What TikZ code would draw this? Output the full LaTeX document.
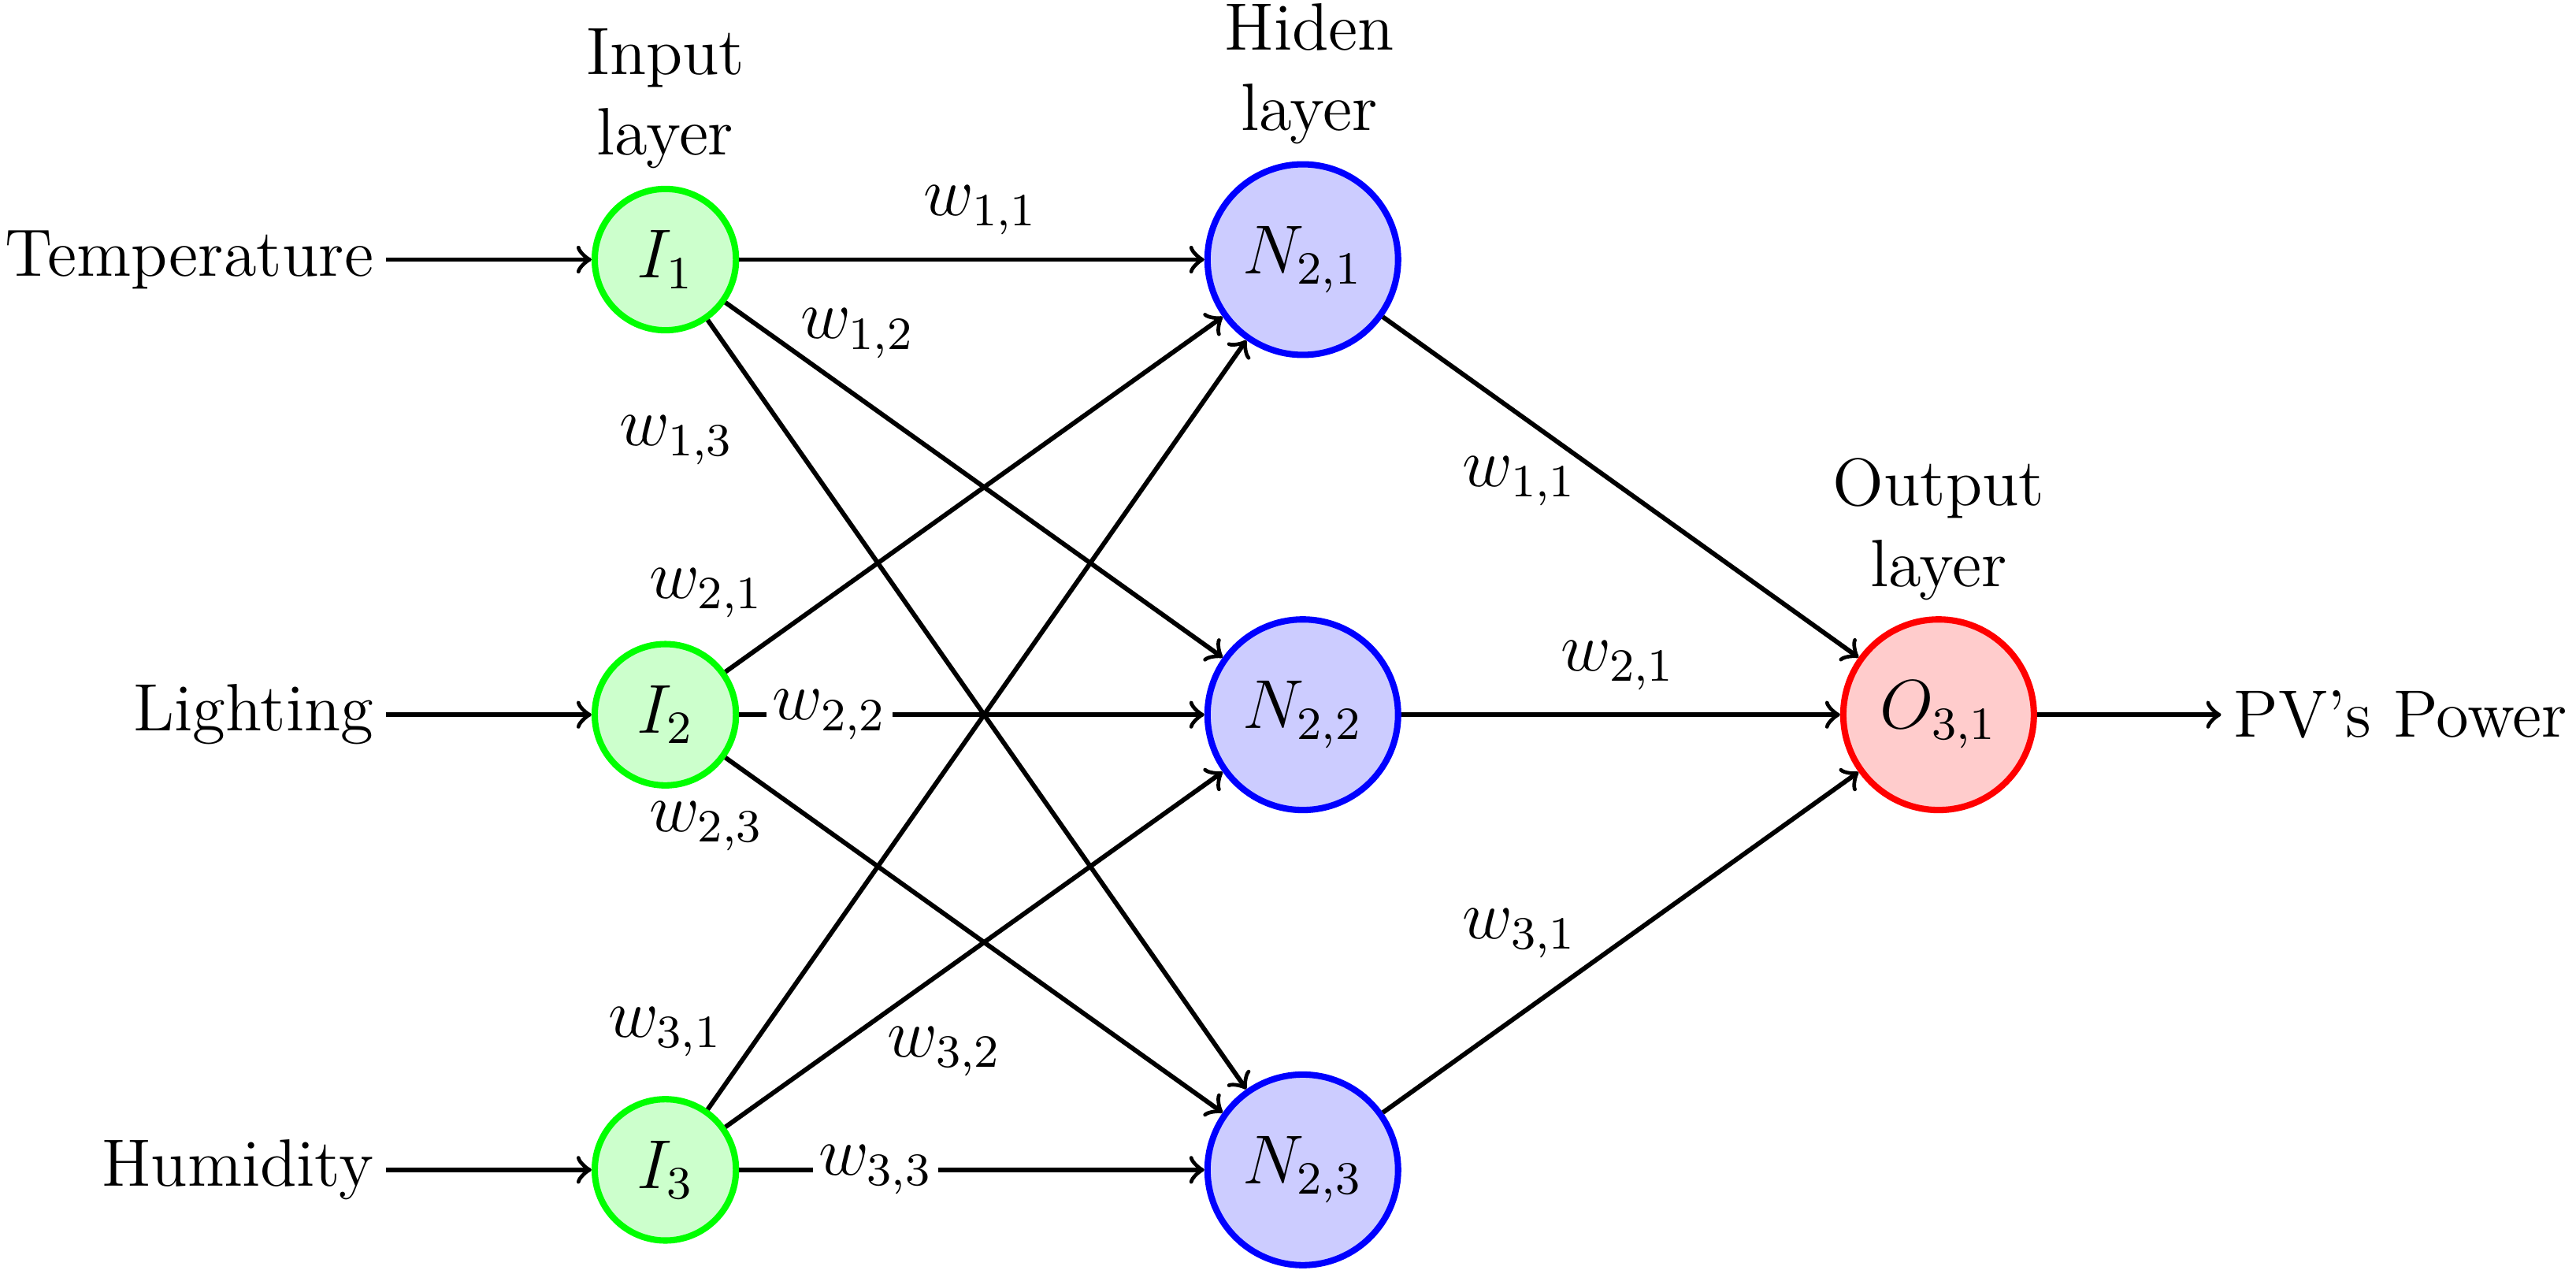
\documentclass[tikz,border=0pt]{standalone}
\usetikzlibrary{positioning}
\begin{document}
\begin{tikzpicture}[x=1cm,y=1cm,font=\fontsize{11.6}{14}\selectfont,
      every node/.style={align=center},
      input/.style={draw=green, fill=green!20, circle, line width=1.1pt, minimum size=0.86cm, inner sep=0pt},
      hidden/.style={draw=blue, fill=blue!20, circle, line width=1.1pt, minimum size=1.16cm, inner sep=0pt},
      output/.style={draw=red, fill=red!20, circle, line width=1.1pt, minimum size=1.16cm, inner sep=0pt},
      link/.style={->, thick},
      side/.style={inner sep=0.07cm},
      wlab/.style={fill=white, inner sep=1pt}]
    \useasboundingbox (0,0) rectangle (15.68,7.82);
    % layers
    \node[input] (I1) at (4.05,6.24) {$I_1$};
    \node[input] (I2) at (4.05,3.47) {$I_2$};
    \node[input] (I3) at (4.05,0.70) {$I_3$};
    \node[hidden] (N1) at (7.93,6.24) {$N_{2,1}$};
    \node[hidden] (N2) at (7.93,3.47) {$N_{2,2}$};
    \node[hidden] (N3) at (7.93,0.70) {$N_{2,3}$};
    \node[output] (O1) at (11.80,3.47) {$O_{3,1}$};
    % inputs and output
    \node[side, anchor=east] (t) at (2.35,6.24) {Temperature};
    \node[side, anchor=east] (l) at (2.35,3.47) {Lighting};
    \node[side, anchor=east] (h) at (2.35,0.70) {Humidity};
    \node[side, anchor=west] (p) at (13.52,3.47) {PV's Power};
    \draw[link] (t) -- (I1);
    \draw[link] (l) -- (I2);
    \draw[link] (h) -- (I3);
    \draw[link] (O1) -- (p);
    % titles
    \node (ti) at (4.05,7.22) {Input\\layer};
    \node (th) at (7.97,7.37) {Hiden\\layer};
    \node (to) at (11.80,4.60) {Output\\layer};
    % weights
    \foreach \i in {1,2,3}
      \foreach \j in {1,2,3}
        \draw[link] (I\i) -- (N\j);
    \foreach \j in {1,2,3}
      \draw[link] (N\j) -- (O1);
    \node (w11) at (5.97,6.54) {$w_{1,1}$};
    \node (w12) at (5.22,5.79) {$w_{1,2}$};
    \node (w13) at (4.12,5.14) {$w_{1,3}$};
    \node (w21) at (4.30,4.21) {$w_{2,1}$};
    \node[wlab] (w22) at (5.05,3.47) {$w_{2,2}$};
    \node (w23) at (4.30,2.79) {$w_{2,3}$};
    \node (w31) at (4.05,1.54) {$w_{3,1}$};
    \node (w32) at (5.75,1.42) {$w_{3,2}$};
    \node[wlab] (w33) at (5.33,0.70) {$w_{3,3}$};
    \node (v11) at (9.25,4.89) {$w_{1,1}$};
    \node (v21) at (9.85,3.77) {$w_{2,1}$};
    \node (v31) at (9.25,2.14) {$w_{3,1}$};
\end{tikzpicture}
\end{document}
